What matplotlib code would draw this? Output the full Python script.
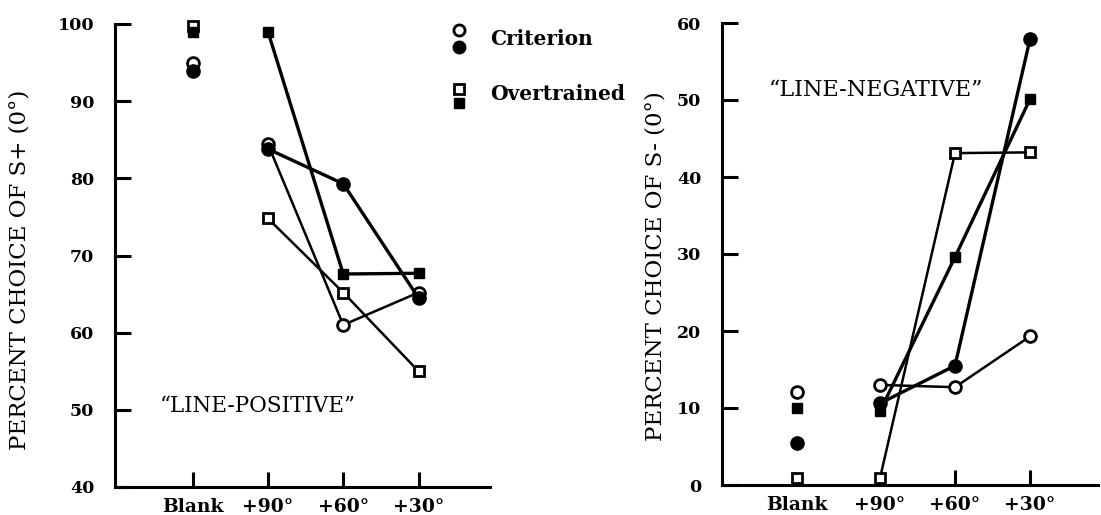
import matplotlib
matplotlib.use("Agg")
import matplotlib.pyplot as plt
from matplotlib.lines import Line2D
import numpy as np

# ---------------- data ----------------
categories = ["Blank", "+90°", "+60°", "+30°"]

# "LINE-POSITIVE": percent choice of S+ (0°)
pos_crit_open = [95.0, 84.4, 61.0, 65.2]
pos_crit_filled = [93.9, 83.8, 79.3, 64.5]
pos_over_open = [99.7, 74.8, 65.2, 55.0]
pos_over_filled = [99.0, 99.0, 67.6, 67.7]

# "LINE-NEGATIVE": percent choice of S- (0°)
neg_crit_open = [12.1, 13.0, 12.7, 19.3]
neg_crit_filled = [5.5, 10.6, 15.5, 57.9]
neg_over_open = [0.9, 0.9, 43.1, 43.2]
neg_over_filled = [10.0, 9.6, 29.6, 50.1]

pos_yticks = [40, 50, 60, 70, 80, 90, 100]
neg_yticks = [0, 10, 20, 30, 40, 50, 60]

# ---------------- style ----------------
SERIF = ["DejaVu Serif"]
plt.rcParams["font.family"] = SERIF

fig = plt.figure(figsize=(11.01, 5.15), dpi=100)
axL = fig.add_axes([115 / 1101, 1 - 487 / 515, 375 / 1101, 463 / 515])
axR = fig.add_axes([722 / 1101, 1 - 485 / 515, 376 / 1101, 462 / 515])

styles = {
    "crit_open": dict(marker="o", ms=8.5, mfc="white", mec="black", mew=2.0, lw=1.8),
    "crit_filled": dict(marker="o", ms=9.5, mfc="black", mec="black", mew=1.0, lw=2.4),
    "over_open": dict(marker="s", ms=7, mfc="white", mec="black", mew=2.0, lw=1.8),
    "over_filled": dict(marker="s", ms=7.5, mfc="black", mec="black", mew=1.0, lw=2.4),
}


def draw(ax, xpos, series):
    for key, vals in series:
        st = styles[key]
        z = 4 if "filled" in key else 3
        # blank point (not connected)
        ax.plot([xpos[0]], [vals[0]], linestyle="none", color="black",
                marker=st["marker"], ms=st["ms"], mfc=st["mfc"], mec=st["mec"],
                mew=st["mew"], clip_on=False, zorder=z + 2)
        ax.plot(xpos[1:], vals[1:], color="black", lw=st["lw"],
                marker=st["marker"], ms=st["ms"], mfc=st["mfc"], mec=st["mec"],
                mew=st["mew"], clip_on=False, zorder=z)


def style_axes(ax, xpos, xlim, ylim, yticks, ylabel, label_xy):
    ax.set_xlim(*xlim)
    ax.set_ylim(*ylim)
    for s in ("top", "right"):
        ax.spines[s].set_visible(False)
    for s in ("left", "bottom"):
        ax.spines[s].set_linewidth(2.2)
    ax.set_xticks(xpos)
    ax.set_xticklabels(categories, fontsize=13.5, fontweight="bold", family=SERIF)
    ax.set_yticks(yticks)
    ax.set_yticklabels([str(t) for t in yticks], fontsize=12.5, fontweight="bold", family=SERIF)
    ax.tick_params(axis="x", direction="in", length=11, width=2.2, pad=8)
    ax.tick_params(axis="y", direction="in", length=11.5, width=2.2, pad=15)
    ax.set_ylabel(ylabel, fontsize=16.5, family=SERIF, va="center")
    ax.yaxis.set_label_coords(*label_xy)


xL = [1, 2, 3, 4]
xR = [0.89, 2, 3, 4]

draw(axL, xL, [("crit_open", pos_crit_open), ("over_open", pos_over_open),
               ("crit_filled", pos_crit_filled), ("over_filled", pos_over_filled)])
draw(axR, xR, [("crit_open", neg_crit_open), ("over_open", neg_over_open),
               ("crit_filled", neg_crit_filled), ("over_filled", neg_over_filled)])

style_axes(axL, xL, (-0.033, 4.95), (40, 100), pos_yticks,
           "PERCENT CHOICE OF S+ (0°)", (-0.255, 0.468))
style_axes(axR, xR, (-0.107, 4.907), (0, 60), neg_yticks,
           "PERCENT CHOICE OF S- (0°)", (-0.178, 0.474))

# right panel: no visible ticks under Blank and +90°
for i, tk in enumerate(axR.xaxis.get_major_ticks()):
    if i < 2:
        tk.tick1line.set_visible(False)

axL.text(0.12, 0.175, "\u201cLINE-POSITIVE\u201d", transform=axL.transAxes,
         fontsize=15.5, family=SERIF, ha="left", va="center")
axR.text(0.41, 0.855, "\u201cLINE-NEGATIVE\u201d", transform=axR.transAxes,
         fontsize=16, family=SERIF, ha="center", va="center")

# legend in figure coordinates
def fx(px):
    return px / 1101


def fy(py):
    return 1 - py / 515


leg = [
    (30, styles["crit_open"]), (47, styles["crit_filled"]),
    (89, styles["over_open"]), (103, styles["over_filled"]),
]
for py, st in leg:
    fig.add_artist(Line2D([fx(459)], [fy(py)], transform=fig.transFigure,
                          linestyle="none", marker=st["marker"], ms=st["ms"] - 0.5,
                          mfc=st["mfc"], mec=st["mec"], mew=st["mew"]))
fig.text(fx(490), fy(39), "Criterion", fontsize=14.5, fontweight="bold",
         family=SERIF, ha="left", va="center")
fig.text(fx(490), fy(94), "Overtrained", fontsize=14.5, fontweight="bold",
         family=SERIF, ha="left", va="center")

fig.savefig("out.png", dpi=100)
